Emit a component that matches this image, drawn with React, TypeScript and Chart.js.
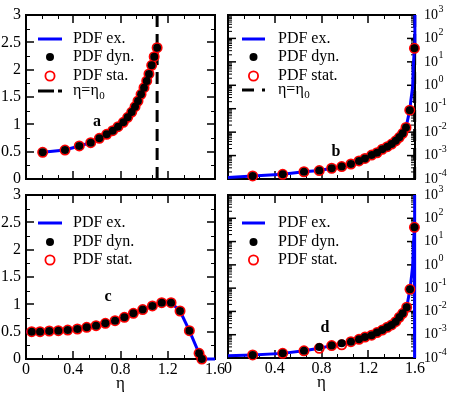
import React, { useEffect, useRef } from "react";
import { Chart, registerables } from "chart.js";

Chart.register(...registerables);

const SERIF = '"Liberation Serif", "Times New Roman", serif';

// ---- shared tick data ----
const etaTickValues = [0, 0.4, 0.8, 1.2, 1.6];
const etaTickLabels = ["0", "0.4", "0.8", "1.2", "1.6"];
const linTickValues = [0, 0.5, 1, 1.5, 2, 2.5, 3];
const linTickLabels = ["0", "0.5", "1", "1.5", "2", "2.5", "3"];
const logExponents = [-4, -3, -2, -1, 0, 1, 2, 3];

// ---- panel a (linear) ----
const aEta = [0.141, 0.33, 0.451, 0.548, 0.621, 0.683, 0.734, 0.779, 0.824, 0.861, 0.895, 0.923, 0.948, 0.974, 0.999, 1.022, 1.041, 1.064, 1.085, 1.11];
const aDyn = [0.488, 0.53, 0.604, 0.664, 0.744, 0.817, 0.884, 0.957, 1.037, 1.128, 1.225, 1.323, 1.427, 1.549, 1.67, 1.793, 1.921, 2.079, 2.237, 2.402];
const aStat = [0.488, 0.53, 0.604, 0.664, 0.744, 0.817, 0.884, 0.957, 1.037, 1.128, 1.225, 1.323, 1.427, 1.549, 1.67, 1.793, 1.921, 2.079, 2.237, 2.402];
const aExEta = [0.12, 0.141, 0.33, 0.451, 0.548, 0.621, 0.683, 0.734, 0.779, 0.824, 0.861, 0.895, 0.923, 0.948, 0.974, 0.999, 1.022, 1.041, 1.064, 1.085, 1.11];
const aExVal = [0.484, 0.488, 0.53, 0.604, 0.664, 0.744, 0.817, 0.884, 0.957, 1.037, 1.128, 1.225, 1.323, 1.427, 1.549, 1.67, 1.793, 1.921, 2.079, 2.237, 2.402];
const aEta0 = 1.11;

// ---- panel b (log) ----
const bEta = [0.211, 0.468, 0.65, 0.781, 0.887, 0.973, 1.052, 1.121, 1.172, 1.229, 1.275, 1.32, 1.363, 1.4, 1.435, 1.466, 1.495, 1.523, 1.555, 1.595];
const bDyn = [1.35e-4, 1.58e-4, 2.04e-4, 2.29e-4, 2.88e-4, 3.39e-4, 4.37e-4, 5.89e-4, 7.59e-4, 1.05e-3, 1.32e-3, 1.86e-3, 2.4e-3, 3.09e-3, 4.27e-3, 6.03e-3, 8.91e-3, 1.58e-2, 8.7e-2, 38];
const bStat = [1.35e-4, 1.58e-4, 2.04e-4, 2.29e-4, 2.88e-4, 3.39e-4, 4.37e-4, 5.89e-4, 7.59e-4, 1.05e-3, 1.32e-3, 1.86e-3, 2.4e-3, 3.09e-3, 4.27e-3, 6.03e-3, 8.91e-3, 1.58e-2, 8.7e-2, 38];
const bExEta = [0, 0.211, 0.468, 0.65, 0.781, 0.887, 0.973, 1.052, 1.121, 1.172, 1.229, 1.275, 1.32, 1.363, 1.4, 1.435, 1.466, 1.495, 1.523, 1.555, 1.565, 1.58, 1.585, 1.595, 1.599];
const bExVal = [1.17e-4, 1.35e-4, 1.58e-4, 2.04e-4, 2.29e-4, 2.88e-4, 3.39e-4, 4.37e-4, 5.89e-4, 7.59e-4, 1.05e-3, 1.32e-3, 1.86e-3, 2.4e-3, 3.09e-3, 4.27e-3, 6.03e-3, 8.91e-3, 1.58e-2, 8.7e-2, 0.23, 0.87, 6, 38, 3000];
const bEta0 = 1.597;

// ---- panel c (linear) ----
const cEta = [0.048, 0.119, 0.197, 0.274, 0.353, 0.435, 0.514, 0.593, 0.672, 0.754, 0.833, 0.909, 0.988, 1.07, 1.149, 1.228, 1.304, 1.383, 1.465, 1.488];
const cDyn = [0.5, 0.5, 0.512, 0.518, 0.53, 0.549, 0.579, 0.609, 0.652, 0.701, 0.762, 0.835, 0.905, 0.97, 1.03, 1.03, 0.878, 0.518, 0.104, 0.0];
const cStat = [0.5, 0.5, 0.512, 0.518, 0.53, 0.549, 0.579, 0.609, 0.652, 0.701, 0.762, 0.835, 0.905, 0.97, 1.03, 1.03, 0.878, 0.518, 0.104, 0.0];
const cExEta = [0, 0.048, 0.119, 0.197, 0.274, 0.353, 0.435, 0.514, 0.593, 0.672, 0.754, 0.833, 0.909, 0.988, 1.07, 1.149, 1.19, 1.228, 1.304, 1.383, 1.465, 1.49, 1.6];
const cExVal = [0.5, 0.5, 0.5, 0.512, 0.518, 0.53, 0.549, 0.579, 0.609, 0.652, 0.701, 0.762, 0.835, 0.905, 0.97, 1.03, 1.042, 1.03, 0.878, 0.518, 0.104, 0.0, 0.0];

// ---- panel d (log) ----
const dEta = [0.211, 0.468, 0.65, 0.781, 0.887, 0.973, 1.052, 1.121, 1.172, 1.229, 1.275, 1.32, 1.363, 1.4, 1.435, 1.466, 1.495, 1.529, 1.557, 1.595];
const dDyn = [1.35e-4, 1.58e-4, 2.04e-4, 3.0e-4, 3.4e-4, 4.3e-4, 5.01e-4, 6.31e-4, 7.94e-4, 9.55e-4, 1.23e-3, 1.58e-3, 2.09e-3, 2.63e-3, 3.63e-3, 5.62e-3, 8.32e-3, 1.51e-2, 8.9e-2, 41];
const dStat = [1.35e-4, 1.58e-4, 2.04e-4, 2.6e-4, 3.4e-4, 3.7e-4, 5.01e-4, 6.31e-4, 7.94e-4, 9.55e-4, 1.23e-3, 1.58e-3, 2.09e-3, 2.63e-3, 3.63e-3, 5.62e-3, 8.32e-3, 1.51e-2, 8.9e-2, 41];
const dExEta = [0, 0.211, 0.468, 0.65, 0.781, 0.887, 0.973, 1.052, 1.121, 1.172, 1.229, 1.275, 1.32, 1.363, 1.4, 1.435, 1.466, 1.495, 1.529, 1.557, 1.567, 1.58, 1.586, 1.595, 1.597, 1.597];
const dExVal = [1.25e-4, 1.35e-4, 1.58e-4, 2.04e-4, 2.6e-4, 3.4e-4, 3.7e-4, 5.01e-4, 6.31e-4, 7.94e-4, 9.55e-4, 1.23e-3, 1.58e-3, 2.09e-3, 2.63e-3, 3.63e-3, 5.62e-3, 8.32e-3, 1.51e-2, 8.9e-2, 0.23, 0.9, 6, 41, 5000, 1e-6];

type Clip = { left: number | false; top: number | false; right: number | false; bottom: number | false } | false;

type Panel = {
  key: string;
  pad: { left: number; top: number; right: number; bottom: number };
  log: boolean;
  eta: number[];
  dyn: number[];
  stat: number[];
  exEta: number[];
  exVal: number[];
  exClip: Clip;
  eta0?: number;
  statLabel: string;
  letter: string;
  letterPos: [number, number];
  legLine: [number, number];
  legTextX: number;
  legRows: number[];
  dashSample: [number, number, number, number];
  xLabels: boolean;
};

const panels: Panel[] = [
  {
    key: "a", pad: { left: 26, top: 15, right: 235, bottom: 216 }, log: false,
    eta: aEta, dyn: aDyn, stat: aStat, exEta: aExEta, exVal: aExVal, exClip: false, eta0: aEta0,
    statLabel: "PDF sta.", letter: "a", letterPos: [97, 122],
    legLine: [38, 62], legTextX: 73, legRows: [39, 57, 76, 91], dashSample: [38, 54, 58, 62], xLabels: false,
  },
  {
    key: "b", pad: { left: 228, top: 15, right: 35, bottom: 216 }, log: true,
    eta: bEta, dyn: bDyn, stat: bStat, exEta: bExEta, exVal: bExVal,
    exClip: { left: 2, top: 0, right: 2, bottom: 2 }, eta0: bEta0,
    statLabel: "PDF stat.", letter: "b", letterPos: [336, 152],
    legLine: [242, 265], legTextX: 278, legRows: [39, 57, 76, 90], dashSample: [242, 254, 262, 265], xLabels: false,
  },
  {
    key: "c", pad: { left: 26, top: 195, right: 235, bottom: 36 }, log: false,
    eta: cEta, dyn: cDyn, stat: cStat, exEta: cExEta, exVal: cExVal,
    exClip: { left: 0, top: 0, right: 0, bottom: 4 },
    statLabel: "PDF stat.", letter: "c", letterPos: [108, 297],
    legLine: [38, 62], legTextX: 73, legRows: [223, 242, 260], dashSample: [0, 0, 0, 0], xLabels: true,
  },
  {
    key: "d", pad: { left: 228, top: 195, right: 35, bottom: 37 }, log: true,
    eta: dEta, dyn: dDyn, stat: dStat, exEta: dExEta, exVal: dExVal,
    exClip: { left: 2, top: 0, right: 2, bottom: 0 },
    statLabel: "PDF stat.", letter: "d", letterPos: [325, 328],
    legLine: [242, 265], legTextX: 278, legRows: [223, 242, 260], dashSample: [0, 0, 0, 0], xLabels: true,
  },
];

function xy(xs: number[], ys: number[]) {
  return xs.map((x, i) => ({ x, y: ys[i] }));
}

function seg(ctx: CanvasRenderingContext2D, x1: number, y1: number, x2: number, y2: number) {
  ctx.beginPath();
  ctx.moveTo(x1, y1);
  ctx.lineTo(x2, y2);
  ctx.stroke();
}

function makePlugin(p: Panel) {
  return {
    id: "deco" + p.key,
    beforeDatasetsDraw(chart: any) {
      const ctx: CanvasRenderingContext2D = chart.ctx;
      const { left, right, top, bottom } = chart.chartArea;
      const xs = chart.scales.x;
      const ys = chart.scales.y;
      ctx.save();
      ctx.strokeStyle = "#000";
      for (let i = 0; i <= 12; i++) {
        const px = Math.round(xs.getPixelForValue((i * 0.4) / 3));
        const major = i % 3 === 0;
        ctx.lineWidth = major ? 1.5 : 1;
        const len = major ? 8 : 4;
        const xx = major ? px : px + 0.5;
        seg(ctx, xx, bottom, xx, bottom - len);
        seg(ctx, xx, top, xx, top + len);
      }
      if (p.log) {
        for (let e = -4; e <= 3; e++) {
          for (let m = 1; m <= 9; m++) {
            if (e === 3 && m > 1) break;
            const py = ys.getPixelForValue(m * Math.pow(10, e));
            const major = m === 1;
            ctx.lineWidth = major ? 1.5 : 1;
            const len = major ? 8 : 4;
            seg(ctx, left, py, left + len, py);
            seg(ctx, right, py, right - len, py);
          }
        }
      } else {
        for (let i = 0; i <= 12; i++) {
          const py = Math.round(ys.getPixelForValue(i * 0.25));
          const major = i % 2 === 0;
          ctx.lineWidth = major ? 1.5 : 1;
          const len = major ? 8 : 4;
          const yy = major ? py : py + 0.5;
          seg(ctx, left, yy, left + len, yy);
          seg(ctx, right, yy, right - len, yy);
        }
      }
      ctx.lineWidth = 2;
      ctx.strokeRect(left, top, right - left, bottom - top);
      ctx.restore();
    },
    afterDatasetsDraw(chart: any) {
      const ctx: CanvasRenderingContext2D = chart.ctx;
      const { left, right, bottom } = chart.chartArea;
      const xs = chart.scales.x;
      const ys = chart.scales.y;
      ctx.save();
      ctx.fillStyle = "#000";
      if (p.log) {
        logExponents.forEach((e) => {
          const py = ys.getPixelForValue(Math.pow(10, e));
          ctx.font = `14px ${SERIF}`;
          ctx.textAlign = "left";
          ctx.textBaseline = "middle";
          ctx.fillText("10", right + 9, py);
          const w = ctx.measureText("10").width;
          ctx.font = `10px ${SERIF}`;
          ctx.fillText(String(e), right + 9 + w + 0.5, py - 6);
        });
      } else {
        ctx.font = `16px ${SERIF}`;
        ctx.textAlign = "right";
        ctx.textBaseline = "middle";
        linTickValues.forEach((v, i) => {
          ctx.fillText(linTickLabels[i], left - 5, ys.getPixelForValue(v));
        });
      }
      if (p.xLabels) {
        ctx.font = `16px ${SERIF}`;
        ctx.textAlign = "center";
        ctx.textBaseline = "middle";
        etaTickValues.forEach((v, i) => {
          ctx.fillText(etaTickLabels[i], xs.getPixelForValue(v), bottom + 11);
        });
        ctx.font = `17px ${SERIF}`;
        ctx.textBaseline = "alphabetic";
        ctx.fillText("η", (left + right) / 2, bottom + 29);
      }
      ctx.font = `bold 16px ${SERIF}`;
      ctx.textAlign = "center";
      ctx.textBaseline = "middle";
      ctx.fillText(p.letter, p.letterPos[0], p.letterPos[1]);
      const [l1, l2] = p.legLine;
      const mx = (l1 + l2) / 2;
      const r = p.legRows;
      ctx.strokeStyle = "#0000ff";
      ctx.lineWidth = 3;
      seg(ctx, l1, r[0], l2, r[0]);
      ctx.beginPath();
      ctx.arc(mx, r[1], 4, 0, Math.PI * 2);
      ctx.fill();
      ctx.strokeStyle = "#ff0000";
      ctx.lineWidth = 1.8;
      ctx.beginPath();
      ctx.arc(mx, r[2], 4.6, 0, Math.PI * 2);
      ctx.stroke();
      ctx.font = `16px ${SERIF}`;
      ctx.textAlign = "left";
      ctx.textBaseline = "middle";
      ctx.fillText("PDF ex.", p.legTextX, r[0]);
      ctx.fillText("PDF dyn.", p.legTextX, r[1]);
      ctx.fillText(p.statLabel, p.legTextX, r[2]);
      if (p.eta0 !== undefined) {
        const ds = p.dashSample;
        ctx.strokeStyle = "#000";
        ctx.lineWidth = 3;
        seg(ctx, ds[0], r[3], ds[1], r[3]);
        seg(ctx, ds[2], r[3], ds[3], r[3]);
        ctx.fillText("η=η", p.legTextX, r[3]);
        const w = ctx.measureText("η=η").width;
        ctx.font = `11px ${SERIF}`;
        ctx.fillText("0", p.legTextX + w + 0.5, r[3] + 5);
      }
      ctx.restore();
    },
  };
}

function makeConfig(p: Panel): any {
  const ymin = p.log ? 1e-4 : 0;
  const ymax = p.log ? 1e3 : 3;
  const datasets: any[] = [
    {
      label: "PDF ex.",
      data: xy(p.exEta, p.exVal),
      showLine: true,
      borderColor: "#0000ff",
      borderWidth: 3,
      pointRadius: 0,
      tension: 0,
      fill: false,
      order: 3,
      clip: p.exClip,
    },
    {
      label: p.statLabel,
      data: xy(p.eta, p.stat),
      showLine: false,
      pointRadius: 4.6,
      pointBorderWidth: 1.8,
      pointBorderColor: "#ff0000",
      pointBackgroundColor: "rgba(0,0,0,0)",
      order: 2,
      clip: false,
    },
    {
      label: "PDF dyn.",
      data: xy(p.eta, p.dyn),
      showLine: false,
      pointRadius: 4,
      pointBorderWidth: 0,
      pointBackgroundColor: "#000000",
      order: 1,
      clip: false,
    },
  ];
  if (p.eta0 !== undefined) {
    datasets.push({
      label: "η=η0",
      data: xy([p.eta0, p.eta0], [ymin, ymax]),
      showLine: true,
      borderColor: "#000000",
      borderWidth: 3,
      borderDash: [12, 7],
      pointRadius: 0,
      order: 4,
      clip: false,
    });
  }
  return {
    type: "scatter",
    data: { datasets },
    options: {
      responsive: false,
      animation: false,
      devicePixelRatio: 1,
      events: [],
      layout: { padding: p.pad },
      plugins: { legend: { display: false }, tooltip: { enabled: false } },
      scales: {
        x: { type: "linear", min: 0, max: 1.6, display: false },
        y: { type: p.log ? "logarithmic" : "linear", min: ymin, max: ymax, display: false },
      },
    },
    plugins: [makePlugin(p)],
  };
}

function PanelChart({ p }: { p: Panel }) {
  const ref = useRef<HTMLCanvasElement>(null);
  useEffect(() => {
    const chart = new Chart(ref.current as HTMLCanvasElement, makeConfig(p));
    return () => chart.destroy();
  }, [p]);
  return (
    <canvas
      ref={ref}
      width={450}
      height={395}
      style={{ position: "absolute", left: 0, top: 0, width: 450, height: 395 }}
    />
  );
}

export default function App() {
  return (
    <div style={{ position: "fixed", left: 0, top: 0, width: 450, height: 395, background: "#fff" }}>
      {panels.map((p) => (
        <PanelChart key={p.key} p={p} />
      ))}
    </div>
  );
}
